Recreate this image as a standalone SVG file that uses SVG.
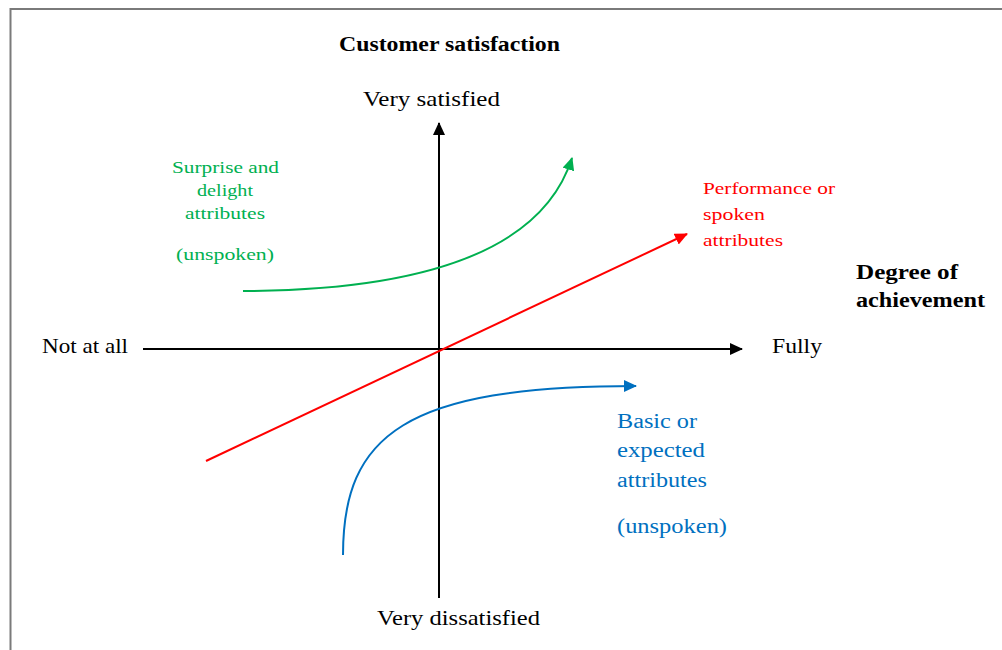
<svg xmlns="http://www.w3.org/2000/svg" width="1002" height="650" viewBox="0 0 1002 650">
  <style>
    .lbl { font-family: "Liberation Serif", "Times New Roman", serif; }
    .axis-lbl { font-size: 21px; fill: #000; }
    .bold { font-weight: bold; font-size: 20px; fill: #000; }
    .green { fill: #00B050; font-size: 17px; }
    .red { fill: #FF0000; font-size: 17px; }
    .blue { fill: #0070C0; font-size: 20px; }
  </style>
  <defs>
    <marker id="ah-black" markerUnits="userSpaceOnUse" markerWidth="14" markerHeight="12" refX="12" refY="6" orient="auto">
      <path d="M0,0 L13,6 L0,12 z" fill="#000"/>
    </marker>
    <marker id="ah-red" markerUnits="userSpaceOnUse" markerWidth="14" markerHeight="12" refX="12" refY="6" orient="auto">
      <path d="M0,0 L13,6 L0,12 z" fill="#FF0000"/>
    </marker>
    <marker id="ah-green" markerUnits="userSpaceOnUse" markerWidth="14" markerHeight="12" refX="12" refY="6" orient="auto">
      <path d="M0,0 L13,6 L0,12 z" fill="#00B050"/>
    </marker>
    <marker id="ah-blue" markerUnits="userSpaceOnUse" markerWidth="14" markerHeight="12" refX="12" refY="6" orient="auto">
      <path d="M0,0 L13,6 L0,12 z" fill="#0070C0"/>
    </marker>
  </defs>
  <rect width="1002" height="650" fill="#fff"/>
  <!-- frame -->
  <path d="M10.5,650 L10.5,9 L1002,9" fill="none" stroke="#7a7a7a" stroke-width="2"/>

  <g id="connectors" fill="none">
    <line id="y-axis" x1="439" y1="598" x2="439" y2="123" stroke="#000" stroke-width="2" marker-end="url(#ah-black)"/>
    <line id="x-axis" x1="143" y1="349" x2="742" y2="349" stroke="#000" stroke-width="2" marker-end="url(#ah-black)"/>
    <line id="performance-line" x1="206" y1="461" x2="687" y2="234" stroke="#FF0000" stroke-width="2" marker-end="url(#ah-red)"/>
    <path id="delight-curve" d="M243,291 Q530,290 572,158" stroke="#00B050" stroke-width="2" marker-end="url(#ah-green)"/>
    <path id="basic-curve" d="M343,555 C343,435 405,386 636,386" stroke="#0070C0" stroke-width="2" marker-end="url(#ah-blue)"/>
  </g>

  <g id="title" class="lbl">
    <text class="bold" x="339" y="51" font-size="20" textLength="221" lengthAdjust="spacingAndGlyphs">Customer satisfaction</text>
  </g>
  <g id="very-satisfied" class="lbl">
    <text class="axis-lbl" x="363" y="106" textLength="137" lengthAdjust="spacingAndGlyphs">Very satisfied</text>
  </g>
  <g id="very-dissatisfied" class="lbl">
    <text class="axis-lbl" x="377" y="625" textLength="163" lengthAdjust="spacingAndGlyphs">Very dissatisfied</text>
  </g>
  <g id="not-at-all" class="lbl">
    <text class="axis-lbl" x="42" y="353" textLength="86" lengthAdjust="spacingAndGlyphs">Not at all</text>
  </g>
  <g id="fully" class="lbl">
    <text class="axis-lbl" x="772" y="353" textLength="50" lengthAdjust="spacingAndGlyphs">Fully</text>
  </g>
  <g id="degree-of-achievement" class="lbl">
    <text class="bold" x="856" y="279" textLength="102" lengthAdjust="spacingAndGlyphs">Degree of</text>
    <text class="bold" x="856" y="307" textLength="129" lengthAdjust="spacingAndGlyphs">achievement</text>
  </g>
  <g id="surprise-delight" class="lbl">
    <text class="green" x="172" y="173" textLength="107" lengthAdjust="spacingAndGlyphs">Surprise and</text>
    <text class="green" x="197" y="196" textLength="56" lengthAdjust="spacingAndGlyphs">delight</text>
    <text class="green" x="185" y="219" textLength="80" lengthAdjust="spacingAndGlyphs">attributes</text>
    <text class="green" x="176" y="260" textLength="98" lengthAdjust="spacingAndGlyphs">(unspoken)</text>
  </g>
  <g id="performance" class="lbl">
    <text class="red" x="703" y="194" textLength="132" lengthAdjust="spacingAndGlyphs">Performance or</text>
    <text class="red" x="703" y="220" textLength="62" lengthAdjust="spacingAndGlyphs">spoken</text>
    <text class="red" x="703" y="246" textLength="80" lengthAdjust="spacingAndGlyphs">attributes</text>
  </g>
  <g id="basic" class="lbl">
    <text class="blue" x="617" y="428" textLength="80" lengthAdjust="spacingAndGlyphs">Basic or</text>
    <text class="blue" x="617" y="457" textLength="88" lengthAdjust="spacingAndGlyphs">expected</text>
    <text class="blue" x="617" y="487" textLength="90" lengthAdjust="spacingAndGlyphs">attributes</text>
    <text class="blue" x="617" y="533" textLength="110" lengthAdjust="spacingAndGlyphs">(unspoken)</text>
  </g>
</svg>
